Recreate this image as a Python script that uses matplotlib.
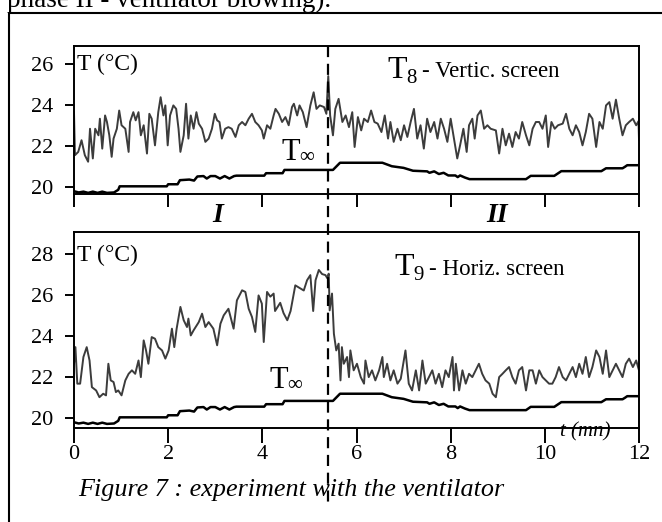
import matplotlib
matplotlib.use("Agg")
import matplotlib.pyplot as plt
from matplotlib.lines import Line2D

plt.rcParams['font.family'] = ['Liberation Serif', 'DejaVu Serif']

W, H = 662, 522

# time (mn) at which the ventilator is switched on (phase I -> phase II)
t_switch = 5.4

# T8 - vertical screen
t8_time = [0.00, 0.02, 0.09, 0.16, 0.23, 0.30, 0.34, 0.40, 0.45, 0.52, 0.55, 0.60, 0.66, 0.70,
           0.75, 0.80, 0.84, 0.91, 0.96, 1.01, 1.09, 1.16, 1.19, 1.26, 1.31, 1.37, 1.42, 1.48,
           1.55, 1.60, 1.65, 1.72, 1.79, 1.84, 1.90, 1.94, 1.99, 2.04, 2.11, 2.17, 2.22, 2.26,
           2.33, 2.38, 2.43, 2.48, 2.54, 2.60, 2.65, 2.72, 2.79, 2.86, 2.93, 2.99, 3.04, 3.09,
           3.14, 3.21, 3.28, 3.35, 3.43, 3.50, 3.57, 3.64, 3.71, 3.78, 3.85, 3.92, 3.99, 4.03,
           4.10, 4.17, 4.24, 4.28, 4.35, 4.42, 4.49, 4.56, 4.63, 4.67, 4.74, 4.79, 4.86, 4.94,
           5.02, 5.09, 5.15, 5.22, 5.31, 5.36, 5.40, 5.44, 5.50, 5.55, 5.62, 5.70, 5.77, 5.84,
           5.91, 5.96, 6.03, 6.10, 6.16, 6.24, 6.31, 6.38, 6.45, 6.53, 6.60, 6.67, 6.72, 6.79,
           6.87, 6.94, 7.01, 7.08, 7.15, 7.22, 7.29, 7.36, 7.43, 7.50, 7.57, 7.65, 7.72, 7.79,
           7.86, 7.93, 8.00, 8.07, 8.14, 8.20, 8.27, 8.34, 8.39, 8.46, 8.51, 8.57, 8.64, 8.71,
           8.78, 8.85, 8.96, 9.03, 9.10, 9.17, 9.24, 9.31, 9.38, 9.45, 9.52, 9.60, 9.67, 9.74,
           9.81, 9.88, 9.95, 10.02, 10.07, 10.14, 10.21, 10.28, 10.38, 10.45, 10.52, 10.59,
           10.66, 10.73, 10.80, 10.87, 10.94, 11.01, 11.09, 11.16, 11.23, 11.30, 11.37, 11.44,
           11.51, 11.58, 11.65, 11.72, 11.79, 11.87, 11.94, 11.99, 12.00]
t8_temp = [23.64, 21.54, 21.70, 22.27, 21.54, 21.22, 22.83, 21.38, 22.83, 22.51, 23.32, 21.86, 23.48, 23.16,
           22.51, 21.46, 22.35, 22.83, 23.72, 23.00, 22.83, 21.70, 23.16, 23.64, 23.24, 23.64, 22.51, 23.00,
           21.62, 23.56, 23.32, 22.02, 23.64, 24.37, 23.48, 23.97, 22.02, 23.48, 23.97, 23.80, 22.83, 21.70,
           22.51, 24.05, 22.35, 23.48, 22.83, 23.64, 23.08, 22.83, 22.19, 22.35, 22.83, 23.56, 23.24, 23.16,
           22.35, 22.83, 22.91, 22.83, 22.43, 23.00, 23.16, 23.00, 23.32, 23.56, 23.16, 23.00, 22.75, 22.35,
           23.00, 22.83, 23.48, 23.80, 23.56, 23.16, 23.40, 23.00, 23.89, 24.05, 23.48, 23.97, 23.64, 22.91,
           23.97, 24.61, 23.80, 23.97, 23.89, 23.56, 25.40, 23.48, 22.51, 23.80, 24.29, 23.16, 23.48, 22.91,
           23.64, 21.94, 23.40, 22.75, 23.32, 23.16, 23.72, 23.16, 23.08, 22.67, 23.48, 22.35, 23.16, 22.19,
           22.83, 22.27, 23.00, 22.43, 23.16, 23.80, 22.35, 23.00, 21.86, 23.32, 22.67, 23.16, 22.35, 23.32,
           22.83, 22.19, 23.32, 22.35, 21.38, 22.02, 22.83, 21.70, 23.00, 23.32, 22.35, 23.48, 23.72, 22.83,
           23.00, 22.83, 22.75, 21.62, 22.83, 22.02, 22.59, 21.94, 22.67, 22.35, 23.16, 22.51, 22.02, 22.83,
           23.16, 23.16, 22.83, 23.48, 21.94, 23.16, 22.83, 23.00, 23.08, 23.56, 22.83, 22.51,
           23.00, 22.67, 22.02, 22.67, 23.56, 23.32, 21.94, 23.16, 22.83, 23.97, 24.13, 23.32,
           24.25, 23.32, 22.51, 23.00, 23.16, 23.32, 23.00, 23.20, 22.30]

# T9 - horizontal screen
t9_time = [0.00, 0.03, 0.07, 0.13, 0.20, 0.27, 0.33, 0.38, 0.47, 0.54, 0.62, 0.68, 0.73, 0.78,
           0.84, 0.89, 0.94, 1.01, 1.09, 1.16, 1.23, 1.30, 1.37, 1.42, 1.48, 1.53, 1.58, 1.65,
           1.72, 1.79, 1.87, 1.94, 2.01, 2.08, 2.13, 2.18, 2.26, 2.33, 2.40, 2.43, 2.48, 2.54,
           2.65, 2.72, 2.79, 2.86, 2.96, 3.04, 3.11, 3.18, 3.28, 3.39, 3.46, 3.57, 3.64, 3.71,
           3.78, 3.85, 3.92, 3.99, 4.03, 4.10, 4.17, 4.24, 4.27, 4.38, 4.45, 4.53, 4.60, 4.70,
           4.81, 4.88, 4.95, 5.02, 5.08, 5.13, 5.20, 5.27, 5.34, 5.38, 5.41, 5.43, 5.48, 5.52,
           5.57, 5.62, 5.66, 5.69, 5.73, 5.80, 5.84, 5.87, 5.94, 6.01, 6.09, 6.16, 6.19, 6.26,
           6.33, 6.40, 6.48, 6.55, 6.58, 6.65, 6.72, 6.79, 6.87, 6.94, 7.04, 7.11, 7.18, 7.26,
           7.33, 7.40, 7.47, 7.54, 7.61, 7.68, 7.75, 7.82, 7.89, 7.96, 8.04, 8.07, 8.11, 8.18,
           8.25, 8.32, 8.39, 8.46, 8.53, 8.60, 8.67, 8.74, 8.82, 8.89, 8.96, 9.03, 9.10, 9.17,
           9.24, 9.31, 9.38, 9.45, 9.52, 9.60, 9.67, 9.74, 9.81, 9.88, 9.95, 10.02, 10.09, 10.16,
           10.23, 10.30, 10.38, 10.45, 10.52, 10.59, 10.66, 10.73, 10.80, 10.87, 10.94, 11.01,
           11.09, 11.16, 11.23, 11.30, 11.37, 11.44, 11.51, 11.58, 11.65, 11.72, 11.79, 11.87,
           11.94, 12.00]
t9_temp = [22.63, 23.44, 21.66, 21.66, 22.96, 23.44, 22.79, 21.49, 21.33, 21.00, 21.17, 21.09, 22.63, 21.82,
           21.74, 21.25, 21.33, 21.09, 21.82, 22.14, 22.31, 22.14, 22.79, 21.98, 23.77, 23.28, 22.63, 23.93,
           23.85, 23.44, 23.28, 22.88, 23.28, 24.34, 23.44, 24.34, 25.40, 24.75, 24.42, 24.83, 24.01, 24.26,
           24.66, 25.07, 24.42, 24.66, 24.34, 23.53, 24.58, 24.99, 25.31, 24.34, 25.72, 26.21, 26.13, 25.31,
           24.91, 24.18, 25.96, 25.56, 23.69, 26.13, 25.90, 26.05, 25.20, 25.60, 25.10, 24.75, 25.20, 26.45,
           26.30, 26.20, 26.70, 26.95, 25.20, 26.70, 27.20, 27.00, 26.95, 26.80, 27.02, 25.23, 26.05, 24.09,
           23.28, 23.61, 21.82, 23.44, 22.63, 22.96, 21.98, 23.28, 22.31, 22.63, 21.98, 21.66, 22.79, 21.98,
           22.31, 21.82, 22.31, 22.96, 21.98, 22.63, 21.82, 22.31, 21.66, 21.90, 23.28, 21.66, 21.33, 22.31,
           21.33, 22.79, 21.66, 21.98, 22.31, 21.66, 22.14, 21.49, 22.31, 21.98, 22.96, 21.33, 22.63, 21.33,
           22.31, 21.66, 22.14, 21.98, 22.31, 22.63, 22.14, 21.82, 21.66, 21.17, 21.00, 21.98, 22.14, 22.31,
           22.47, 21.98, 21.66, 22.31, 22.47, 21.33, 22.31, 22.31, 21.66, 22.31, 21.98, 21.82, 21.66, 21.66,
           21.98, 22.47, 21.98, 21.82, 22.14, 22.47, 21.98, 22.63, 22.14, 22.96, 21.98, 22.47,
           23.28, 22.96, 22.14, 23.28, 21.98, 22.31, 22.63, 22.31, 21.98, 22.63, 22.88, 22.47,
           22.79, 22.31]

# T_inf - ambient temperature (same record on both panels)
tinf_time = [0.00, 0.10, 0.20, 0.30, 0.40, 0.50, 0.60, 0.70, 0.85, 0.94, 0.97, 1.97, 2.00, 2.20,
             2.25, 2.45, 2.55, 2.62, 2.75, 2.82, 2.90, 3.00, 3.10, 3.20, 3.30, 3.40, 3.45, 4.04,
             4.08, 4.43, 4.47, 5.50, 5.65, 6.55, 6.75, 7.00, 7.20, 7.50, 7.55, 7.65, 7.75, 7.85,
             7.95, 8.10, 8.15, 8.20, 8.30, 8.40, 9.60, 9.70, 10.20, 10.35, 11.20, 11.30, 11.65,
             11.70, 11.75, 12.00]
tinf_temp = [19.78, 19.72, 19.76, 19.70, 19.76, 19.70, 19.76, 19.70, 19.72, 19.85, 20.02, 20.02, 20.12, 20.12,
             20.32, 20.35, 20.30, 20.50, 20.52, 20.40, 20.52, 20.52, 20.40, 20.52, 20.40, 20.52, 20.54, 20.54,
             20.66, 20.66, 20.82, 20.82, 21.17, 21.17, 21.00, 20.92, 20.78, 20.75, 20.68, 20.75, 20.62, 20.68,
             20.55, 20.55, 20.47, 20.55, 20.45, 20.37, 20.37, 20.53, 20.53, 20.76, 20.76, 20.90, 20.90,
             20.97, 21.05, 21.05]

x_ticks = [0, 2, 4, 6, 8, 10, 12]
top_yticks = [20, 22, 24, 26]
bot_yticks = [20, 22, 24, 26, 28]

gray = '#3c3c3c'


def px(x, y):
    # pixel position (from top-left) -> figure fraction
    return x / W, 1 - y / H


fig = plt.figure(figsize=(W / 100, H / 100), dpi=100)

# axes boxes in pixels: left, top, right, bottom
l, r = 74, 639
ax1 = fig.add_axes([l / W, 1 - 194.3 / H, (r - l) / W, (194.3 - 46) / H])
ax2 = fig.add_axes([l / W, 1 - 428 / H, (r - l) / W, (428 - 232) / H])

ax1.plot(t8_time, t8_temp, color=gray, lw=1.4)
ax1.plot(tinf_time, tinf_temp, color='black', lw=1.8)
ax2.plot(t9_time, t9_temp, color=gray, lw=1.4)
ax2.plot(tinf_time, tinf_temp, color='black', lw=1.8)

ax1.set_ylim(19.63, 26.87)
ax2.set_ylim(19.5, 29.05)
ax1.set_yticks(top_yticks)
ax2.set_yticks(bot_yticks)

for ax in (ax1, ax2):
    ax.set_xlim(0, 12)
    ax.set_xticks(x_ticks)
    for s in ax.spines.values():
        s.set_linewidth(1.4)
    ax.tick_params(axis='y', direction='out', length=6.5, width=1.4, labelsize=16, pad=8.5)
    ax.tick_params(axis='x', direction='out', length=9, width=1.4, labelsize=16, pad=2)
ax1.tick_params(axis='x', labelbottom=False)
ax2.tick_params(axis='x', length=10.5)

# dashed separation between the two phases, through both panels
x_sw = fig.transFigure.inverted().transform(ax2.transData.transform((t_switch, 20)))[0]
fig.add_artist(Line2D([x_sw, x_sw], [1 - 46 / H, 1 - 506 / H], color='black', lw=1.6,
                      ls=(0, (5, 3))))

# frame of the page, with the end of the preceding line of text above it
fig.add_artist(Line2D([9 / W, 9 / W, 1.0], [0.0, 1 - 13 / H, 1 - 13 / H], color='black', lw=1.5))
fig.text(*px(7, 7), "phase II - ventilator blowing).", fontsize=19.5, va='baseline', ha='left')

# labels
fig.text(*px(77, 70), "T (°C)", fontsize=17, va='baseline')
fig.text(*px(77, 261), "T (°C)", fontsize=17, va='baseline')

fig.text(*px(387, 78), "T", fontsize=23, va='baseline')
fig.text(*px(406, 83), "8", fontsize=15, va='baseline')
fig.text(*px(422, 77), "- Vertic. screen", fontsize=16.5, va='baseline')

fig.text(*px(394, 275), "T", fontsize=23, va='baseline')
fig.text(*px(413, 280), "9", fontsize=15, va='baseline')
fig.text(*px(429, 275), "- Horiz. screen", fontsize=16.5, va='baseline')

fig.text(*px(281, 160), "T", fontsize=22, va='baseline')
fig.text(*px(299, 162), "∞", fontsize=15, va='baseline')
fig.text(*px(269, 388), "T", fontsize=22, va='baseline')
fig.text(*px(287, 390), "∞", fontsize=15, va='baseline')

fig.text(*px(218, 216), "I", fontsize=20, fontweight='bold', fontstyle='italic', ha='center', va='center')
fig.text(*px(497, 216), "II", fontsize=20, fontweight='bold', fontstyle='italic', ha='center', va='center')

fig.text(*px(560, 436), "t (mn)", fontsize=15, fontstyle='italic', va='baseline')
fig.text(*px(78, 496), "Figure 7 : experiment with the ventilator", fontsize=18.8,
         fontstyle='italic', va='baseline')

fig.savefig("out.png", dpi=100)
